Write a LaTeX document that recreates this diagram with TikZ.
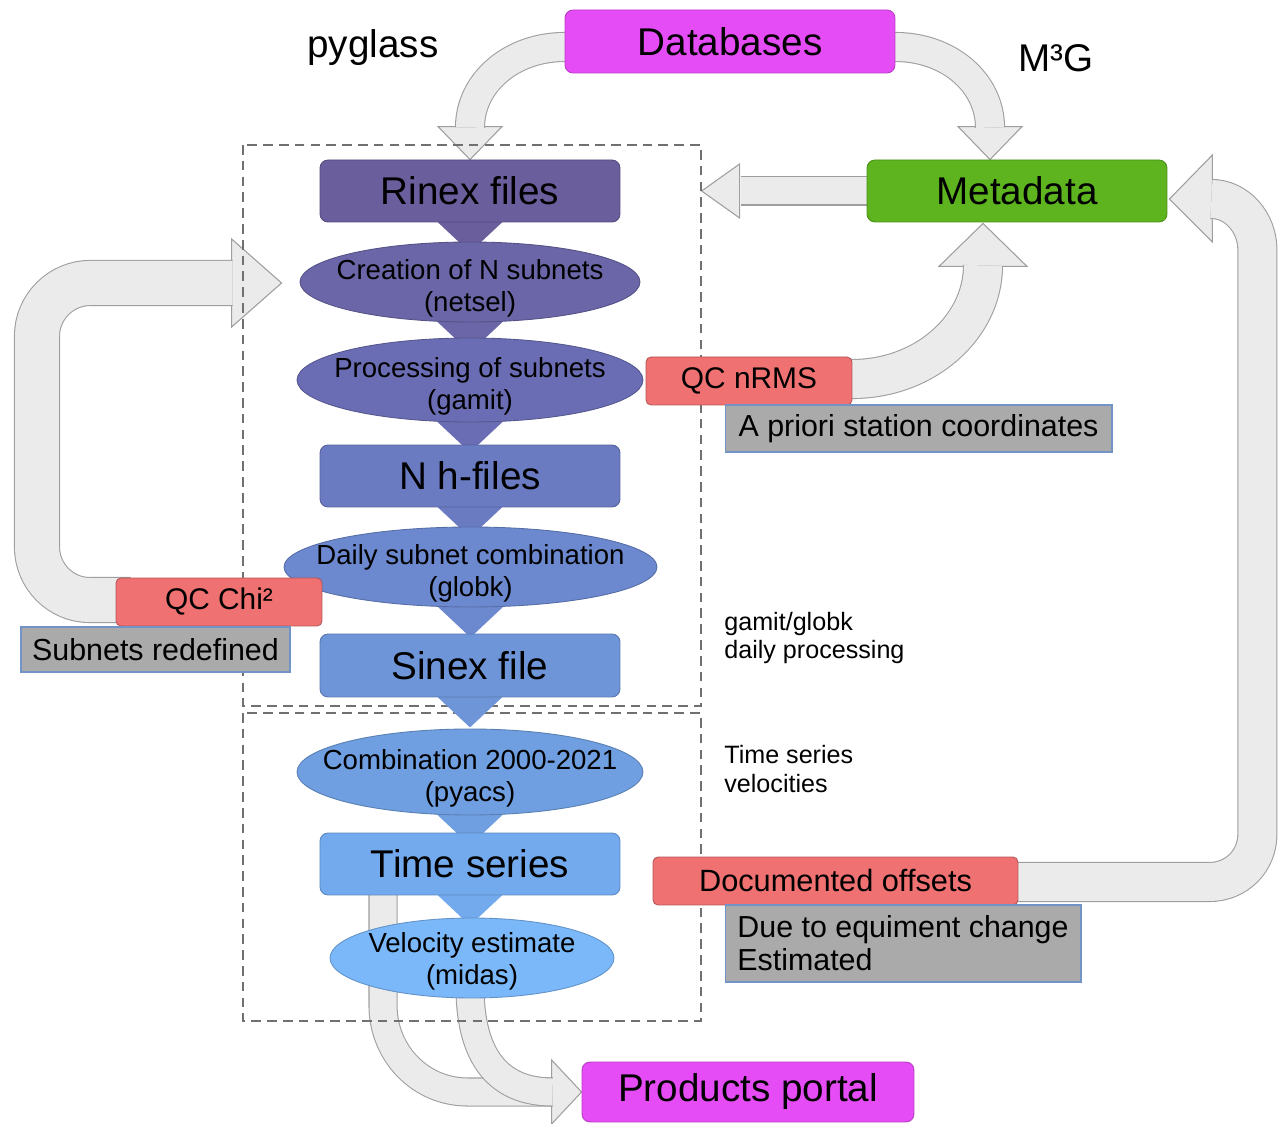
\documentclass[tikz,border=0pt]{standalone}
\usepackage{fontspec}
\setmainfont{Liberation Sans}
\usetikzlibrary{shapes.geometric,calc}
\pgfdeclarelayer{bg}
\pgfdeclarelayer{mid}
\pgfsetlayers{bg,mid,main}
\definecolor{cRinex}{HTML}{6B5E9C}
\definecolor{cCreate}{HTML}{6A66A8}
\definecolor{cProc}{HTML}{6A6DB3}
\definecolor{cNh}{HTML}{6B7BC2}
\definecolor{cDaily}{HTML}{6C88CF}
\definecolor{cSinex}{HTML}{6F95D9}
\definecolor{cComb}{HTML}{6F9FE0}
\definecolor{cTs}{HTML}{73AAEE}
\definecolor{cVel}{HTML}{7AB8F9}
\definecolor{cMag}{HTML}{E64CF6}
\definecolor{cGreen}{HTML}{5DB41F}
\definecolor{cQC}{HTML}{F07171}
\definecolor{cNote}{HTML}{AAAAAA}
\definecolor{cNoteB}{HTML}{7293C6}
\definecolor{cArrF}{HTML}{EBEBEB}
\definecolor{cArrL}{HTML}{9E9E9E}
\definecolor{cDash}{HTML}{707070}
\tikzset{
  big/.style={rectangle, rounded corners=0.16cm, minimum width=6cm, minimum height=1.24cm, inner sep=0pt,
    font=\fontsize{22}{26}\selectfont, fill=#1, draw=#1!80!black, line width=0.5pt},
  ell/.style={ellipse, inner sep=0pt, fill=#1, draw=#1!80!black, line width=0.5pt},
  etext/.style={font=\fontsize{15.7}{18.2}\selectfont, align=center, inner sep=0pt},
  qc/.style={rectangle, rounded corners=0.1cm, fill=cQC, draw=cQC!75!black, line width=0.5pt,
    minimum height=0.96cm, inner sep=0pt, font=\fontsize{17}{20}\selectfont},
  note/.style={rectangle, fill=cNote, draw=cNoteB, line width=0.6pt, inner sep=0pt,
    font=\fontsize{17.3}{18.7}\selectfont},
  garrow/.style={draw=cArrL, double=cArrF, double distance=#1, line width=0.6pt},
  ghead/.style={fill=cArrF, draw=cArrL, line width=0.6pt, line join=miter},
  dbox/.style={draw=cDash, dash pattern=on 5.5pt off 3.5pt, line width=0.85pt},
  small/.style={font=\fontsize{14.3}{16.5}\selectfont, align=left, inner sep=0pt, anchor=west},
}
\begin{document}
\begin{tikzpicture}[x=0.02cm,y=-0.02cm]
\useasboundingbox (0,0) rectangle (1285,1124);

% ---------- nodes ----------
\node[big=cMag, minimum width=6.6cm, minimum height=1.26cm] (db) at (730,41.5) {Databases};
\node[big=cRinex] (rinex) at (470,191) {Rinex files};
\node[ell=cCreate, minimum width=6.8cm, minimum height=1.6cm] (creation) at (470,282) {};
\node[etext] (creationT) at ($(creation.center)+(0,6)$) {Creation of N subnets\\(netsel)};
\node[ell=cProc, minimum width=6.92cm, minimum height=1.68cm] (proc) at (470,380) {};
\node[etext] (procT) at ($(proc.center)+(0,6)$) {Processing of subnets\\(gamit)};
\node[big=cNh] (nh) at (470,476) {N h-files};
\node[ell=cDaily, minimum width=7.46cm, minimum height=1.6cm] (daily) at (470.5,567) {};
\node[etext] (dailyT) at ($(daily.center)+(0,6)$) {Daily subnet combination\\(globk)};
\node[big=cSinex, minimum height=1.26cm] (sinex) at (470,665.5) {Sinex file};
\node[ell=cComb, minimum width=6.92cm, minimum height=1.72cm] (comb) at (470,772) {};
\node[etext] (combT) at ($(comb.center)+(0,6)$) {Combination 2000-2021\\(pyacs)};
\node[big=cTs] (ts) at (470,864) {Time series};
\node[ell=cVel, minimum width=5.68cm, minimum height=1.6cm] (vel) at (472,958) {};
\node[etext] (velT) at ($(vel.center)+(0,3)$) {Velocity estimate\\(midas)};
\node[big=cMag, minimum width=6.64cm, minimum height=1.2cm] (portal) at (748,1092) {Products portal};
\node[big=cGreen] (meta) at (1017,191) {Metadata};

\node[qc, minimum width=4.12cm] (qcn) at (749,381) {QC nRMS};
\node[note, minimum width=7.74cm, minimum height=0.94cm] (apriori) at (918.5,428.5) {A priori station coordinates};
\node[qc, minimum width=4.12cm] (qcchi) at (219,602) {QC Chi²};
\node[note, minimum width=5.38cm, minimum height=0.9cm] (subred) at (155.5,649.5) {Subnets redefined};
\node[qc, minimum width=7.3cm, font=\fontsize{17.5}{20}\selectfont] (docoff) at (835.5,881) {Documented offsets};
\node[note, minimum width=7.12cm, minimum height=1.54cm, align=left] (due) at (903,943.5)
  {Due to equiment change\\Estimated};

\node[font=\fontsize{22}{26}\selectfont, inner sep=0pt] (pyglass) at (373,48) {pyglass};
\node[font=\fontsize{22}{26}\selectfont, inner sep=0pt] (m3g) at (1056,58) {M³G};
\node[small] (gg) at (724,638) {gamit/globk\\daily processing};
\node[small] (tsv) at (724,769) {Time series\\velocities};

% ---------- dashed boxes and pointer triangles ----------
\begin{pgfonlayer}{mid}
  \draw[dbox] (243,145) rectangle (701,706);
  \draw[dbox] (243,713) rectangle (701,1021);
  \foreach \n/\c in {rinex/cRinex, creation/cCreate, proc/cProc, nh/cNh, daily/cDaily, sinex/cSinex, comb/cComb, ts/cTs}{
    \fill[\c] (\n.south) ++(-48,-15) -- ++(48,45) -- ++(48,-45) -- cycle;
  }
\end{pgfonlayer}

% ---------- thick grey arrows ----------
\begin{pgfonlayer}{bg}
  % Databases -> Rinex files
  \filldraw[ghead] ($(rinex.north)+(-32,-33)$) -- (rinex.north) -- ($(rinex.north)+(32,-33)$) -- cycle;
  \draw[garrow=0.56cm] ($(db.west)+(12,5.5)$) -- ($(db.west)+(0,5.5)$)
     .. controls +(-53,0) and +(0,-45) .. ($(rinex.north)+(0,-32)$);
  % Databases -> Metadata
  \filldraw[ghead] ($(meta.north)+(-59,-33)$) -- ($(meta.north)+(-27,0)$) -- ($(meta.north)+(5,-33)$) -- cycle;
  \draw[garrow=0.56cm] ($(db.east)+(-12,5.5)$) -- ($(db.east)+(0,5.5)$)
     .. controls +(53,0) and +(0,-45) .. ($(meta.north)+(-27,-32)$);
  % Metadata -> processing box
  \filldraw[ghead] ($(meta.west)+(-127,-27)$) -- ($(meta.west)+(-165,0)$) -- ($(meta.west)+(-127,27)$) -- cycle;
  \draw[garrow=0.54cm] ($(meta.west)+(12,0)$) -- ($(meta.west)+(-126,0)$);
  % QC nRMS -> Metadata
  \filldraw[ghead] ($(meta.south)+(-78,44)$) -- ($(meta.south)+(-34,1)$) -- ($(meta.south)+(10,44)$) -- cycle;
  \draw[garrow=0.76cm] ($(qcn.east)+(-12,-2)$) -- ($(qcn.east)+(0,-2)$)
     .. controls +(72,0) and +(0,62) .. ($(meta.south)+(-34,43)$);
  % Documented offsets -> Metadata
  \filldraw[ghead] ($(meta.east)+(45,-36)$) -- ($(meta.east)+(2,8)$) -- ($(meta.east)+(45,51)$) -- cycle;
  \draw[garrow=0.76cm] ($(docoff.east)+(-12,1)$) -- ($(docoff.east)+(191,1)$)
     .. controls +(27,0) and +(0,27) .. ($(docoff.east)+(239,-47)$)
     -- ($(meta.east)+(90,59)$)
     .. controls +(0,-28) and +(25,0) .. ($(meta.east)+(44,8)$);
  % QC Chi2 -> Creation of N subnets
  \filldraw[ghead] ($(creation.west)+(-68,-43)$) -- ($(creation.west)+(-18,1)$) -- ($(creation.west)+(-68,45)$) -- cycle;
  \draw[garrow=0.88cm] ($(qcchi.west)+(15,-2)$) -- ($(qcchi.west)+(-26,-2)$)
     .. controls +(-29,0) and +(0,29) .. (37,547)
     -- (37,336)
     .. controls +(0,-29) and +(-29,0) .. (90,283)
     -- ($(creation.west)+(-67,1)$);
  % Time series / Velocity -> Products portal
  \filldraw[ghead] ($(portal.west)+(-30,-32)$) -- (portal.west) -- ($(portal.west)+(-30,32)$) -- cycle;
  \draw[garrow=0.54cm] ($(ts.south)+(-87,-15)$) -- ($(ts.south)+(-87,110)$)
     .. controls +(0,47) and +(-48,0) .. ($(portal.west)+(-114,0)$)
     -- ($(portal.west)+(-29,0)$);
  \draw[garrow=0.54cm] ($(vel.south)+(-2,-12)$)
     .. controls +(0,72) and +(-53,0) .. ($(portal.west)+(-29,0)$);
\end{pgfonlayer}
\end{tikzpicture}
\end{document}
